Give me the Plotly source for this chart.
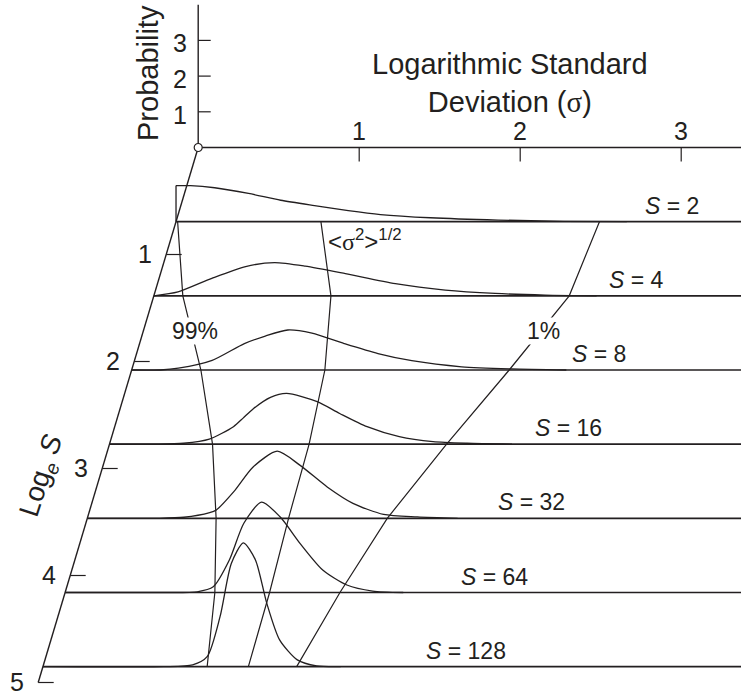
import math
import plotly.graph_objects as go

# ---------------- data ----------------
S_values = [2, 4, 8, 16, 32, 64, 128]
S_names = ["2", "4", "8", "16", "32", "64", "128"]

# probability distributions of sigma, one per S
sig_S2 = [0.0, 0.09, 0.24, 0.45, 0.65, 0.86, 1.07, 1.27, 1.58, 2.00, 2.41, 2.80]
p_S2 = [1.01, 1.01, 0.95, 0.79, 0.60, 0.45, 0.31, 0.20, 0.11, 0.045, 0.01, 0.0]

sig_S4 = [0.0, 0.15, 0.36, 0.57, 0.75, 0.94, 1.19, 1.50, 1.81, 2.12, 2.43, 2.75]
p_S4 = [0.0, 0.11, 0.49, 0.82, 0.93, 0.83, 0.62, 0.34, 0.16, 0.067, 0.02, 0.0]

sig_S8 = [0.0, 0.18, 0.29, 0.50, 0.70, 0.83, 0.97, 1.12, 1.32, 1.53, 1.74, 2.05, 2.36, 2.70]
p_S8 = [0.0, 0.0, 0.05, 0.27, 0.74, 0.95, 1.12, 1.03, 0.74, 0.46, 0.26, 0.09, 0.03, 0.0]

sig_S16 = [0.0, 0.30, 0.46, 0.62, 0.77, 0.83, 0.89, 1.00, 1.10, 1.29, 1.43, 1.60, 1.80, 2.01, 2.22, 2.50]
p_S16 = [0.0, 0.0, 0.025, 0.14, 0.49, 0.73, 0.98, 1.31, 1.42, 1.19, 0.86, 0.49, 0.21, 0.07, 0.025, 0.0]

sig_S32 = [0.0, 0.45, 0.60, 0.76, 0.80, 0.91, 1.03, 1.18, 1.32, 1.49, 1.65, 1.84, 2.05, 2.30]
p_S32 = [0.0, 0.0, 0.03, 0.16, 0.23, 0.75, 1.44, 1.88, 1.49, 0.88, 0.42, 0.11, 0.04, 0.0]

sig_S64 = [0.0, 0.60, 0.82, 0.92, 1.02, 1.11, 1.22, 1.335, 1.46, 1.60, 1.75, 1.91, 2.10]
p_S64 = [0.0, 0.0, 0.02, 0.16, 0.91, 1.94, 2.53, 2.12, 1.37, 0.63, 0.21, 0.04, 0.0]

sig_S128 = [0.0, 0.75, 0.93, 1.02, 1.10, 1.17, 1.245, 1.32, 1.39, 1.47, 1.58, 1.70, 1.85]
p_S128 = [0.0, 0.0, 0.05, 0.28, 1.40, 2.89, 3.47, 2.99, 1.78, 0.75, 0.19, 0.02, 0.0]

curve_sig = [sig_S2, sig_S4, sig_S8, sig_S16, sig_S32, sig_S64, sig_S128]
curve_p = [p_S2, p_S4, p_S8, p_S16, p_S32, p_S64, p_S128]

# sigma of the 99 %, rms and 1 % points on each S row
sig_99 = [0.01, 0.18, 0.43, 0.64, 0.80, 0.93, 1.02]
sig_rms = [0.90, 1.10, 1.20, 1.24, 1.25, 1.27, 1.276]
sig_1 = [2.63, 2.58, 2.345, 2.094, 1.863, 1.707, 1.576]

sigma_ticks = [1, 2, 3]
prob_ticks = [1, 2, 3]
logS_ticks = [1, 2, 3, 4, 5]

# ---------------- projection / layout constants ----------------
W, H = 741, 698
OX, OY = 198.2, 147.5          # pixel position of the origin
SX, SP = 161.0, 35.7           # px per sigma unit, px per probability unit
LX, LY = 32.0, 107.0           # px per log S unit (left, down)
INK = "#231f20"
FONT = "Liberation Sans, Arial, Helvetica, sans-serif"


def proj(sig, p, L):
    return sig - LX / SX * L, p - LY / SP * L


def px_sig(n):
    return n / SX


def px_p(n):
    return n / SP


fig = go.Figure()


def add_line(xs, ys, width=1.3, shape="linear", smooth=None):
    line = dict(color=INK, width=width, shape=shape)
    if smooth is not None:
        line["smoothing"] = smooth
    fig.add_trace(go.Scatter(x=xs, y=ys, mode="lines", line=line,
                             hoverinfo="skip", showlegend=False))


Ls = [math.log(s) for s in S_values]

# --- axes ---
SIG_MAX = 7.0
x0, y0 = proj(0, 0, 0)
x1, y1 = proj(SIG_MAX, 0, 0)
add_line([x0, x1], [y0, y1], 1.4)                 # sigma axis
xa, ya = proj(0, 4.0, 0)
add_line([x0, xa], [y0, ya], 1.4)                 # probability axis
xl, yl = proj(0, 0, 5)
add_line([x0, xl], [y0, yl], 1.4)                 # log S axis

tx, ty = [], []
for t in sigma_ticks:
    a = proj(t, 0, 0)
    tx += [a[0], a[0], None]
    ty += [a[1], a[1] - px_p(14), None]
for t in prob_ticks:
    a = proj(0, t, 0)
    tx += [a[0], a[0] + px_sig(12.5), None]
    ty += [a[1], a[1], None]
for t in logS_ticks:
    a = proj(0, 0, t)
    tx += [a[0], a[0] + px_sig(15.5), None]
    ty += [a[1], a[1], None]
add_line(tx, ty, 1.2)

# --- baselines ---
for L in Ls:
    a = proj(0, 0, L)
    b = proj(SIG_MAX, 0, L)
    add_line([a[0], b[0]], [a[1], b[1]], 1.6)

# --- distribution curves ---
for L, sg, pp in zip(Ls, curve_sig, curve_p):
    xs, ys = zip(*[proj(s, p, L) for s, p in zip(sg, pp)])
    add_line(list(xs), list(ys), 1.3, "spline", 0.7)
# vertical edge of the S = 2 curve at sigma = 0
a = proj(curve_sig[0][0], 0, Ls[0])
b = proj(curve_sig[0][0], curve_p[0][0], Ls[0])
add_line([a[0], b[0]], [a[1], b[1]], 1.3)

# --- 99 %, rms, 1 % lines ---
for sg in (sig_99, sig_rms, sig_1):
    xs, ys = zip(*[proj(s, 0, L) for s, L in zip(sg, Ls)])
    add_line(list(xs), list(ys), 1.2)

# origin circle
fig.add_trace(go.Scatter(x=[x0], y=[y0], mode="markers",
                         marker=dict(symbol="circle", size=8, color="white",
                                     line=dict(color=INK, width=1.2)),
                         hoverinfo="skip", showlegend=False))

ann = []


def text(x, y, s, size, **kw):
    d = dict(x=x, y=y, text=s, showarrow=False, xanchor="center", yanchor="middle",
             font=dict(family=FONT, size=size, color=INK))
    d.update(kw)
    ann.append(d)


SIGMA = "<span style='font-family:Liberation Serif'>σ</span>"

for t in sigma_ticks:
    a = proj(t, 0, 0)
    text(a[0], a[1], str(t), 25, yanchor="bottom", yshift=1)
for t in prob_ticks:
    a = proj(0, t, 0)
    text(a[0], a[1], str(t), 25, xshift=-18, yshift=-3)
for t in logS_ticks:
    a = proj(0, 0, t)
    text(a[0], a[1], str(t), 25, xshift=-21, yshift=1)

# S labels
label_sig = [3.08, 3.00, 2.90, 2.85, 2.76, 2.67, 2.63]
for L, nm, ls in zip(Ls, S_names, label_sig):
    a = proj(ls, 0, L)
    text(a[0], a[1], "<i>S</i> = " + nm, 23, yanchor="bottom", yshift=1)

# 99 % / 1 % labels on the segment between S = 4 and S = 8
for sg, s, dx in ((sig_99, "99%", 3), (sig_1, "1%", 4)):
    a = proj(sg[1], 0, Ls[1])
    b = proj(sg[2], 0, Ls[2])
    text((a[0] + b[0]) / 2, (a[1] + b[1]) / 2, s, 23, xshift=dx, yshift=2,
         bgcolor="white", borderpad=0)

# rms label
a = proj(sig_rms[0], 0, Ls[0])
b = proj(sig_rms[1], 0, Ls[1])
text(a[0] + 0.25 * (b[0] - a[0]), a[1] + 0.25 * (b[1] - a[1]),
     "&lt;" + SIGMA + "<sup>2</sup>&gt;<sup>1/2</sup>", 24,
     xanchor="left", xshift=3)


# titles (paper coordinates)
def paper(px, py):
    return px / W, 1 - py / H


def title(px, py, s, angle=0, size=29):
    xp, yp = paper(px, py)
    ann.append(dict(x=xp, y=yp, xref="paper", yref="paper", showarrow=False,
                    xanchor="center", yanchor="middle", text=s, textangle=angle,
                    font=dict(family=FONT, size=size, color=INK)))


title(148, 73, "Probability", -90)
title(510, 83, "Logarithmic Standard<br>Deviation (" + SIGMA + ")")
title(42, 476, "Log<sub><i>e</i></sub> <i>S</i>", -72, 28)

fig.update_layout(
    width=W, height=H, margin=dict(l=0, r=0, t=0, b=0),
    paper_bgcolor="white", plot_bgcolor="white",
    xaxis=dict(range=[(0 - OX) / SX, (W - OX) / SX], visible=False, fixedrange=True),
    yaxis=dict(range=[(OY - H) / SP, OY / SP], visible=False, fixedrange=True),
    annotations=ann, showlegend=False,
)

fig.write_html("out.html", config={"displayModeBar": False},
               post_script="document.body.style.margin='0';document.body.style.overflow='hidden';")
